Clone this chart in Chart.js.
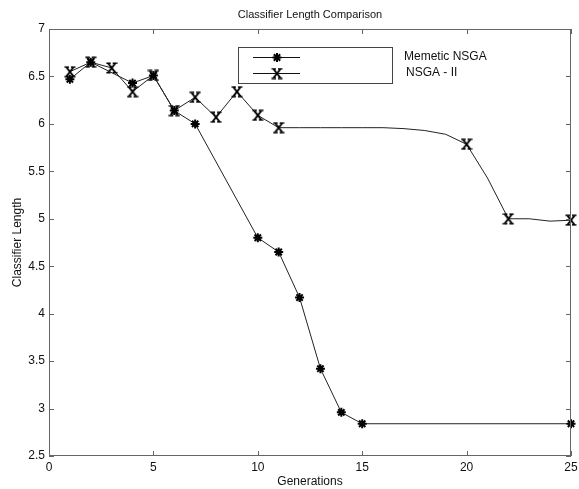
<!DOCTYPE html>
<html>
<head>
<meta charset="utf-8">
<script src="https://cdn.jsdelivr.net/npm/chart.js@4/dist/chart.umd.min.js"></script>
<style>
  html,body{margin:0;padding:0;background:#fff;}
  #wrap{width:579px;height:489px;}
</style>
</head>
<body>
<div id="wrap"><canvas id="c" width="579" height="489"></canvas></div>
<script>
// values
const memeticGens=[1,2,4,5,6,7,10,11,12,13,14,15,25];
const memeticLen=[6.47,6.65,6.43,6.51,6.14,6.0,4.8,4.65,4.17,3.42,2.96,2.84,2.84];

const nsgaGens=[1,2,3,4,5,6,7,8,9,10,11,12,13,14,15,16,17,18,19,20,21,22,23,24,25];
const nsgaLen=[6.55,6.65,6.59,6.34,6.51,6.14,6.28,6.07,6.34,6.09,5.96,5.96,5.96,5.96,5.96,5.96,5.95,5.93,5.89,5.785,5.43,5.0,5.0,4.975,4.985];
const nsgaMarked=[1,2,3,4,5,6,7,8,9,10,11,20,22,25];

const xTicks=[0,5,10,15,20,25];
const yTicks=[2.5,3,3.5,4,4.5,5,5.5,6,6.5,7];

const seriesNames=["Memetic NSGA","NSGA - II"];
const title="Classifier Length Comparison";

Chart.defaults.font.family="'Liberation Sans', Arial, sans-serif";
Chart.defaults.font.size=12;
Chart.defaults.color="#111";

function xMarker(){
  const c=document.createElement("canvas");
  c.width=12;c.height=12;
  const g=c.getContext("2d");
  g.strokeStyle="#000";
  g.lineWidth=2;
  g.beginPath();
  g.moveTo(2.5,1.5);g.lineTo(9.5,10.5);
  g.moveTo(9.5,1.5);g.lineTo(2.5,10.5);
  g.stroke();
  g.lineWidth=1.5;
  g.beginPath();
  g.moveTo(0.5,1.2);g.lineTo(5,1.2);g.moveTo(7,1.2);g.lineTo(11.5,1.2);
  g.moveTo(0.5,10.8);g.lineTo(5,10.8);g.moveTo(7,10.8);g.lineTo(11.5,10.8);
  g.stroke();
  return c;
}
const xImg=xMarker();

const pts=(xs,ys)=>xs.map((x,i)=>({x:x,y:ys[i]}));

// frame, inward ticks, title and legend drawn like the matlab figure
const decor={
  id:"decor",
  afterDraw(chart){
    const {ctx,chartArea:a,scales}=chart;
    ctx.save();
    ctx.strokeStyle="#666";
    ctx.lineWidth=1;
    ctx.strokeRect(a.left+0.5,a.top+0.5,a.right-a.left-1,a.bottom-a.top-1);
    ctx.beginPath();
    for(const v of xTicks){
      const px=Math.round(scales.x.getPixelForValue(v))+0.5;
      ctx.moveTo(px,a.bottom);ctx.lineTo(px,a.bottom-5);
      ctx.moveTo(px,a.top);ctx.lineTo(px,a.top+5);
    }
    for(const v of yTicks){
      const py=Math.round(scales.y.getPixelForValue(v))+0.5;
      ctx.moveTo(a.left,py);ctx.lineTo(a.left+5,py);
      ctx.moveTo(a.right,py);ctx.lineTo(a.right-5,py);
    }
    ctx.stroke();

    ctx.fillStyle="#111";
    ctx.font="11px 'Liberation Sans', Arial, sans-serif";
    ctx.textAlign="center";
    ctx.textBaseline="middle";
    ctx.fillText(title,(a.left+a.right)/2,15);

    // legend box
    ctx.strokeStyle="#444";
    ctx.strokeRect(238.5,47.5,154,36);
    ctx.strokeStyle="#111";
    ctx.beginPath();
    ctx.moveTo(253,57.5);ctx.lineTo(300,57.5);
    ctx.moveTo(253,73.5);ctx.lineTo(300,73.5);
    ctx.stroke();
    ctx.strokeStyle="#000";ctx.lineWidth=2;
    Chart.helpers.drawPoint(ctx,{pointStyle:"star",radius:4.5,borderWidth:2},277,57.5);
    ctx.drawImage(xImg,271,67.5);
    ctx.font="12px 'Liberation Sans', Arial, sans-serif";
    ctx.textAlign="left";
    ctx.fillStyle="#111";
    ctx.fillText(seriesNames[0],404,57);
    ctx.fillText(seriesNames[1],406,73);
    ctx.restore();
  }
};

new Chart(document.getElementById("c"),{
  type:"line",
  data:{
    datasets:[
      {
        label:seriesNames[0],
        data:pts(memeticGens,memeticLen),
        borderColor:"#222",
        borderWidth:1,
        pointStyle:"star",
        pointRadius:4.5,
        pointBorderWidth:2,
        pointBorderColor:"#000",
        pointBackgroundColor:"#000",
        clip:false
      },
      {
        label:seriesNames[1],
        data:pts(nsgaGens,nsgaLen),
        borderColor:"#222",
        borderWidth:1,
        pointStyle:xImg,
        pointRadius:ctx=>nsgaMarked.includes(ctx.raw&&ctx.raw.x)?5:0,
        clip:false
      }
    ]
  },
  options:{
    responsive:false,
    animation:false,
    events:[],
    layout:{autoPadding:false,padding:{left:0,top:29,right:8,bottom:0}},
    plugins:{legend:{display:false},tooltip:{enabled:false},title:{display:false}},
    scales:{
      x:{
        type:"linear",min:0,max:25,
        afterBuildTicks:s=>{s.ticks=xTicks.map(v=>({value:v}));},
        afterFit:s=>{s.height=33;s.paddingLeft=0;s.paddingRight=0;},
        grid:{display:false,drawTicks:false},
        border:{display:false},
        ticks:{padding:4,maxRotation:0,autoSkip:false,callback:v=>String(v)},
        title:{display:true,text:"Generations",padding:{top:0,bottom:0}}
      },
      y:{
        type:"linear",min:2.5,max:7,
        afterBuildTicks:s=>{s.ticks=yTicks.map(v=>({value:v}));},
        afterFit:s=>{s.width=49;s.paddingTop=0;s.paddingBottom=0;},
        grid:{display:false,drawTicks:false},
        border:{display:false},
        ticks:{padding:4,autoSkip:false,callback:v=>String(v)},
        title:{display:true,text:"Classifier Length",padding:{top:10,bottom:0}}
      }
    }
  },
  plugins:[decor]
});
</script>
</body>
</html>
